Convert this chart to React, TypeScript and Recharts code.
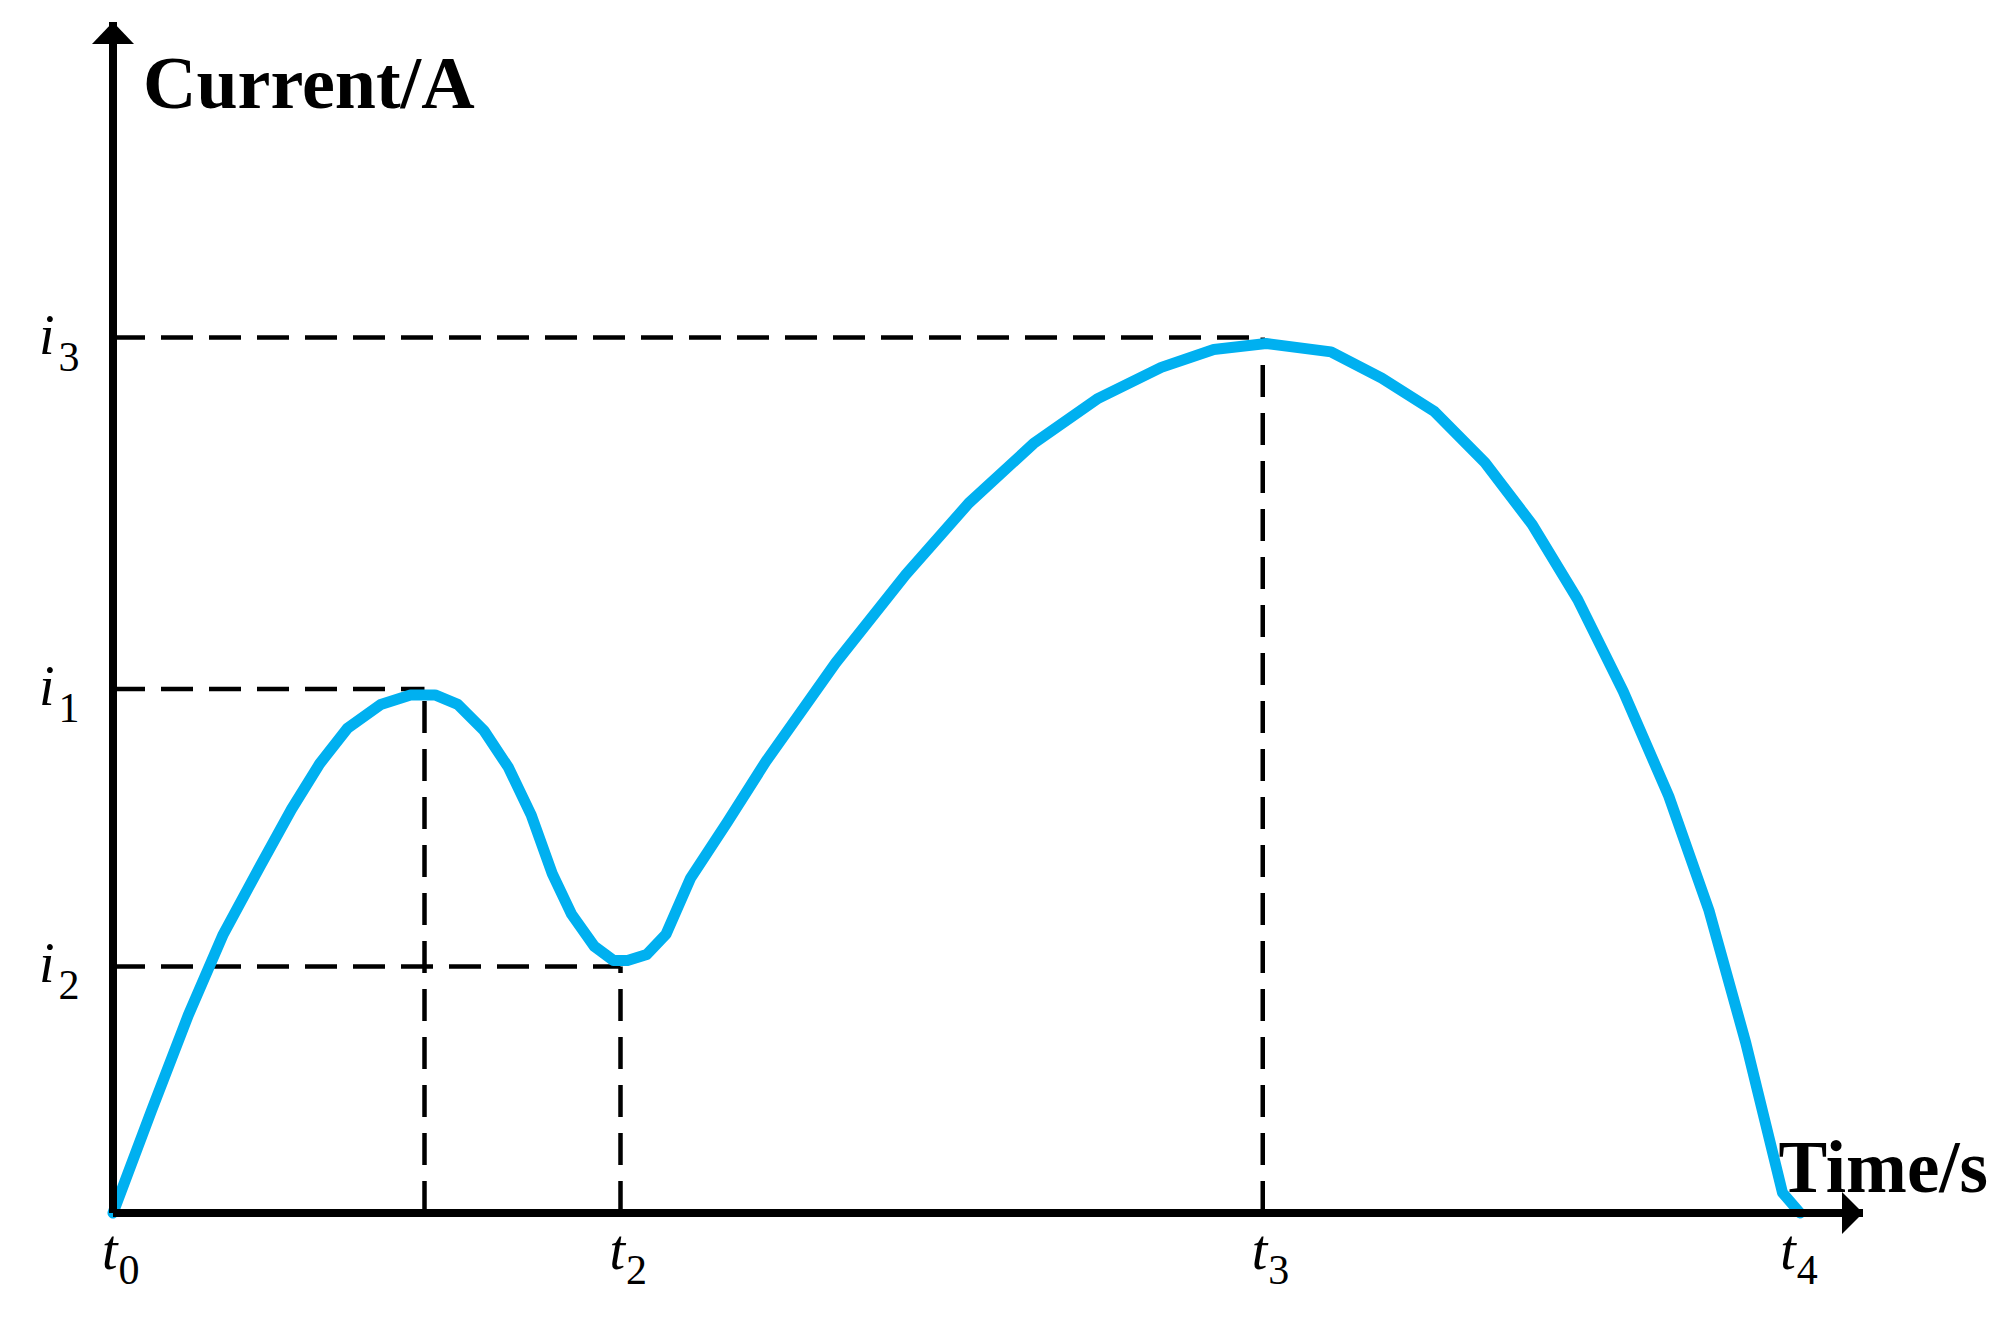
import {
  LineChart,
  Line,
  XAxis,
  YAxis,
  ReferenceLine,
  ReferenceDot,
} from "recharts";

// curve (time and current in chart units)
const time = [
  0, 2.2, 4.3, 6.3, 8.4, 10.2, 11.8, 13.4, 15.3, 17.0, 18.4, 19.7, 21.2, 22.6,
  23.9, 25.1, 26.2, 27.5, 28.6, 29.4, 30.5, 31.6, 33.0, 35.1, 37.3, 41.3, 45.3,
  48.9, 52.6, 56.3, 59.9, 62.9, 65.9, 69.6, 72.5, 75.5, 78.4, 81.1, 83.7, 86.3,
  88.9, 91.2, 93.3, 95.4, 96.4,
];
const current = [
  0, 8.6, 16.6, 23.4, 29.1, 33.9, 37.7, 40.7, 42.7, 43.5, 43.5, 42.7, 40.5,
  37.4, 33.4, 28.5, 25.1, 22.4, 21.2, 21.2, 21.7, 23.4, 28.1, 32.8, 37.9, 46.2,
  53.6, 59.6, 64.6, 68.4, 71.0, 72.5, 73.0, 72.3, 70.1, 67.3, 63.0, 57.8, 51.5,
  43.8, 35.0, 25.4, 14.3, 1.7, 0,
];

const tTicks = [0, 29.0, 65.7, 95.9];
const tLabels = ["0", "2", "3", "4"];
const iTicks = [20.7, 44.0, 73.5];
const iLabels = ["2", "1", "3"];

// guide points (t, i) with dashed lines to both axes
const guideT = [17.8, 29.0, 65.7];
const guideI = [44.0, 20.7, 73.5];

const X_MAX = 100;
const Y_MAX = 100;

const data = time.map((t, k) => ({ t, i: current[k] }));

const FONT = "'Liberation Serif', 'Times New Roman', serif";
const BLUE = "#00B0F0";

const TimeTick = ({ x, y, payload }: any) => {
  const idx = tTicks.indexOf(payload.value);
  return (
    <text x={x - 11} y={y + 56} fontFamily={FONT} fontSize={56} fontStyle="italic" fill="#000">
      t
      <tspan fontStyle="normal" fontSize={42} dx={1} dy={15}>
        {tLabels[idx]}
      </tspan>
    </text>
  );
};

const CurrentTick = ({ x, y, payload }: any) => {
  const idx = iTicks.indexOf(payload.value);
  return (
    <text x={x - 74} y={y + 16} fontFamily={FONT} fontSize={56} fontStyle="italic" fill="#000">
      i
      <tspan fontStyle="normal" fontSize={42} dx={4} dy={17}>
        {iLabels[idx]}
      </tspan>
    </text>
  );
};

const UpArrow = ({ cx, cy }: any) => (
  <polygon points={`${cx},${cy} ${cx - 21},${cy + 22} ${cx + 21},${cy + 22}`} fill="#000" />
);

const RightArrow = ({ cx, cy }: any) => (
  <polygon points={`${cx},${cy} ${cx - 21},${cy - 21} ${cx - 21},${cy + 21}`} fill="#000" />
);

const YTitle = ({ viewBox }: any) => (
  <text
    x={viewBox.x + viewBox.width + 30}
    y={viewBox.y + 86}
    fontFamily={FONT}
    fontSize={74}
    fontWeight="bold"
    fill="#000"
  >
    Current/A
  </text>
);

const XTitle = ({ viewBox }: any) => (
  <text
    x={viewBox.x + viewBox.width + 125}
    y={viewBox.y - 21}
    textAnchor="end"
    fontFamily={FONT}
    fontSize={73}
    fontWeight="bold"
    fill="#000"
  >
    Time/s
  </text>
);

export default function App() {
  return (
    <div style={{ position: "absolute", left: 0, top: 0, background: "#fff" }}>
      <LineChart
        width={2007}
        height={1319}
        data={data}
        margin={{ top: 22, right: 144, left: 0, bottom: 0 }}
      >
        <XAxis
          dataKey="t"
          type="number"
          domain={[0, X_MAX]}
          ticks={tTicks}
          height={106}
          axisLine={{ stroke: "#000", strokeWidth: 8 }}
          tickLine={false}
          tickSize={0}
          tickMargin={0}
          tick={<TimeTick />}
          interval={0}
          label={<XTitle />}
        />
        <YAxis
          type="number"
          domain={[0, Y_MAX]}
          ticks={iTicks}
          width={113}
          axisLine={{ stroke: "#000", strokeWidth: 8 }}
          tickLine={false}
          tickSize={0}
          tickMargin={0}
          tick={<CurrentTick />}
          interval={0}
          label={<YTitle />}
        />
        {guideT.map((t, k) => (
          <ReferenceLine
            key={`h${k}`}
            segment={[
              { x: 0, y: guideI[k] },
              { x: t, y: guideI[k] },
            ]}
            stroke="#000"
            strokeWidth={4.5}
            strokeDasharray="32 16"
          />
        ))}
        {guideT.map((t, k) => (
          <ReferenceLine
            key={`v${k}`}
            segment={[
              { x: t, y: 0 },
              { x: t, y: guideI[k] },
            ]}
            stroke="#000"
            strokeWidth={4.5}
            strokeDasharray="32 16"
          />
        ))}
        <ReferenceDot x={0} y={Y_MAX} r={1} shape={<UpArrow />} ifOverflow="visible" />
        <ReferenceDot x={X_MAX} y={0} r={1} shape={<RightArrow />} ifOverflow="visible" />
        <Line
          dataKey="i"
          type="linear"
          stroke={BLUE}
          strokeWidth={11}
          strokeLinejoin="round"
          strokeLinecap="round"
          dot={false}
          activeDot={false}
          isAnimationActive={false}
        />
      </LineChart>
    </div>
  );
}
